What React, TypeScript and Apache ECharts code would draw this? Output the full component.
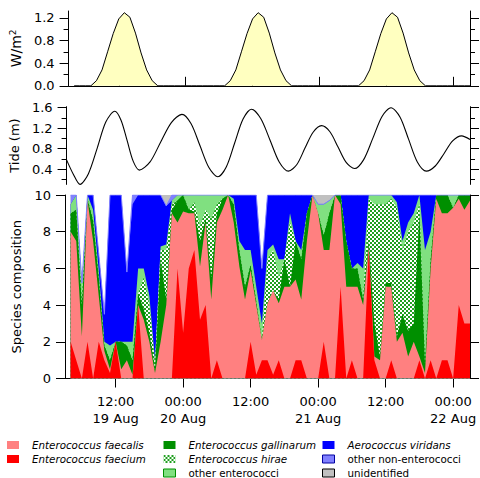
import React, { useEffect, useRef } from 'react';
import * as echarts from 'echarts';

// ---------- data ----------
// time in hours since 19 Aug 00:00
const tickHours = [12, 24, 36, 48, 60, 72];
const tickLabels = ['12:00\n19 Aug', '00:00\n20 Aug', '12:00', '00:00\n21 Aug', '12:00', '00:00\n22 Aug'];

// hourly samples 04:00 19 Aug .. 03:00 22 Aug
const sampleHours = Array.from({ length: 72 }, (_, i) => i + 4);

const solar = [
  0, 0, 0,
  0, 0.09, 0.28, 0.6, 0.92, 1.18, 1.29, 1.21, 0.93, 0.58, 0.28, 0.09, 0,
  0, 0, 0, 0, 0, 0, 0, 0, 0, 0, 0,
  0, 0.09, 0.28, 0.6, 0.92, 1.18, 1.29, 1.21, 0.93, 0.58, 0.28, 0.09, 0,
  0, 0, 0, 0, 0, 0, 0, 0, 0, 0, 0,
  0, 0.09, 0.28, 0.6, 0.92, 1.18, 1.29, 1.21, 0.93, 0.58, 0.28, 0.09, 0,
  0, 0, 0, 0, 0, 0, 0, 0,
];

const tideHours = [
  3, 4.2, 5.4, 6.9, 8.5, 10.0, 11.6, 12.7, 13.8, 14.9, 16.0, 17.9, 19.8, 21.7, 23.6,
  25.2, 26.8, 28.4, 30.0, 31.5, 33.0, 34.5, 36.0, 37.65, 39.3, 40.95, 42.6,
  44.1, 45.55, 47.0, 48.5, 50.0, 51.45, 52.9, 54.4, 56.0, 57.65, 59.3, 60.9,
  62.5, 64.05, 65.6, 67.2, 68.8, 70.35, 71.9, 73.5, 75,
];
const tideLevel = [
  0.58, 0.3, 0.1, 0.31, 0.82, 1.32, 1.53, 1.36, 0.96, 0.55, 0.38, 0.54, 0.93, 1.31, 1.47,
  1.29, 0.86, 0.43, 0.25, 0.44, 0.91, 1.38, 1.57, 1.39, 0.97, 0.54, 0.36,
  0.49, 0.81, 1.12, 1.25, 1.13, 0.83, 0.53, 0.41, 0.58, 1.0, 1.43, 1.6,
  1.42, 0.98, 0.54, 0.36, 0.46, 0.7, 0.95, 1.05, 0.98,
];

const faecium = [
  2, 1, 0, 2, 0, 2, 1, 0.3, 2, 0,
  0, 0, 4, 0, 0, 0, 0, 0, 0, 6,
  2.5, 6, 7, 3.2, 4, 0, 1, 0, 0, 0,
  0, 0, 2, 0.2, 1, 1, 0.2, 1, 0, 0,
  1, 1, 0, 0, 0, 2, 0, 0, 5, 0,
  1, 0, 0, 7, 1, 0, 0, 1, 0, 0,
  0, 0, 1, 0, 1, 0, 1, 1, 0, 4,
  3, 3,
];
const faecalis = [
  6, 6.5, 2.3, 7.7, 7.5, 2.5, 0.5, 0.2, 0, 0.5,
  1, 0.2, 0, 3.2, 2, 0.3, 2, 4, 9, 2.5,
  6.6, 3, 2, 2.9, 4.5, 4.3, 7.5, 9.2, 10, 8.5,
  6.1, 4.3, 3.9, 3.8, 1.1, 3.1, 4.6, 3.1, 5, 5,
  4.4, 3.3, 7.5, 10, 9, 5, 7, 10, 4.5, 5,
  4, 5, 4, 0.2, 0.2, 1, 5, 4, 2, 2.5,
  1.2, 2, 0.2, 0.3, 5, 9.8, 8, 8, 9.3, 5.8,
  6.2, 6.7,
];
const gallinarum = [
  1, 1.7, 1.7, 0.1, 1.1, 1, 0.3, 0.5, 0, 1.5,
  0.8, 0.8, 0.6, 0.6, 0.5, 0.2, 4.5, 0.3, 0.2, 1.2,
  0.9, 0.2, 0.1, 1.4, 0.2, 1.2, 0.5, 0.6, 0, 1,
  0.9, 0.7, 0.3, 0.2, 0, 0, 0, 0.2, 1.5, 0,
  2.1, 2.2, 1.5, 0, 0, 0.8, 2, 0, 0.5, 2.5,
  1, 1, 0.3, 0.3, 1.8, 0.2, 0.2, 0.2, 0.3, 1,
  1.4, 1, 7.8, 0.5, 0.5, 0.2, 1, 1, 0, 0.2,
  0.8, 0.3,
];
const hirae = [
  0, 0, 0.2, 0, 0, 0, 0, 0, 0, 0,
  0, 0, 0, 1.7, 1.5, 0.3, 0.5, 2.7, 0.3, 0,
  0, 0, 0.5, 0.8, 0.5, 3.2, 0.5, 0, 0, 0,
  0, 0, 0, 0, 0, 2.4, 2.2, 1.2, 0, 3.5,
  0, 0, 0, 0, 0, 0, 0, 0, 0, 0,
  0, 0, 0, 2.3, 6.5, 8.3, 4.3, 4.6, 7, 3.5,
  5.4, 5.5, 0.5, 0, 0, 0, 0, 0, 0, 0,
  0, 0,
];
const otherEntero = [
  0.5, 0.8, 1, 0.2, 0.6, 0.4, 0.2, 0.8, 0, 0,
  0.2, 1, 1.4, 0.5, 0.5, 0.2, 0.2, 0.3, 0.2, 0.3,
  0, 0.8, 0.4, 1.7, 0.8, 1.3, 0.5, 0.2, 0, 0.3,
  0.5, 2, 0.8, 0.8, 0.9, 0.5, 0.3, 1, 0, 0.5,
  0, 0.5, 0, 0, 0.5, 1.7, 0.7, 0, 0, 0,
  0, 0.3, 1.7, 0.2, 0.5, 0.5, 0.5, 0.2, 0.3, 0.5,
  0.5, 0.5, 0.5, 6.2, 1.5, 0, 0, 0, 0.7, 0,
  0, 0,
];
const viridans = [
  0, 0, 0, 0, 0.8, 0.9, 1.5, 8.2, 8, 8,
  3.8, 7.5, 4, 4, 5.5, 9, 2.8, 2.1, 0, 0,
  0, 0, 0, 0, 0, 0, 0, 0, 0, 0.2,
  2.5, 3, 3, 5, 3, 3, 2.7, 3.5, 3.5, 1,
  2.5, 3, 1, 0, 0, 0, 0, 0, 0, 2.5,
  4, 3.7, 4, 0, 0, 0, 0, 0, 0.4, 2.5,
  1.5, 1, 0, 3, 2, 0, 0, 0, 0, 0,
  0, 0,
];
const otherNonEntero = [
  0.5, 0, 0, 0, 0, 0, 0, 0, 0, 0,
  0, 0.5, 0, 0, 0, 0, 0, 0, 0.3, 0,
  0, 0, 0, 0, 0, 0, 0, 0, 0, 0,
  0, 0, 0, 0, 0, 0, 0, 0, 0, 0,
  0, 0, 0, 0, 0, 0, 0, 0, 0, 0,
  0, 0, 0, 0, 0, 0, 0, 0, 0, 0,
  0, 0, 0, 0, 0, 0, 0, 0, 0, 0,
  0, 0,
];
const unidentified = [
  0, 0, 0, 0, 0, 0, 0, 0, 0, 0,
  0, 0, 0, 0, 0, 0, 0, 0.6, 0, 0,
  0, 0, 0, 0, 0, 0, 0, 0, 0, 0,
  0, 0, 0, 0, 0, 0, 0, 0, 0, 0,
  0, 0, 0, 0, 0.5, 0.5, 0.3, 0, 0, 0,
  0, 0, 0, 0, 0, 0, 0, 0, 0, 0,
  0, 0, 0, 0, 0, 0, 0, 0, 0, 0,
  0, 0,
];

const solarTicks = [0, 0.4, 0.8, 1.2];
const solarMinor = [0.2, 0.6, 1.0];
const tideTicks = [0.4, 0.8, 1.2, 1.6];
const tideMinor = [0.2, 0.6, 1.0, 1.4];

const FONT = 'DejaVu Sans';

function makeHiraePattern() {
  const c = document.createElement('canvas');
  c.width = 4;
  c.height = 4;
  const ctx = c.getContext('2d');
  if (ctx) {
    ctx.fillStyle = '#ffffff';
    ctx.fillRect(0, 0, 4, 4);
    ctx.fillStyle = '#1f9f1f';
    ctx.fillRect(0, 0, 2, 2);
    ctx.fillRect(2, 2, 2, 2);
  }
  return { image: c.toDataURL(), repeat: 'repeat', imageWidth: 4, imageHeight: 4 };
}

const black = { color: '#000', width: 1 };

function yMajor(grid: number, min: number, max: number, ticks: number[], fmt: (v: number) => string, name: any, nameGap: number, rich?: any) {
  return {
    type: 'value', gridIndex: grid, position: 'left', min, max,
    axisLine: { show: true, lineStyle: black },
    axisTick: { show: true, customValues: ticks, length: 9, lineStyle: black },
    axisLabel: { show: true, customValues: ticks, formatter: fmt, fontSize: 13, fontFamily: FONT, color: '#000', margin: 14 },
    splitLine: { show: false },
    name, nameLocation: 'middle', nameGap, nameRotate: 90,
    nameTextStyle: { fontSize: 13, fontFamily: FONT, color: '#000', rich },
  };
}
function yTicksOnly(grid: number, min: number, max: number, ticks: number[], pos: string, len: number, line: boolean) {
  return {
    type: 'value', gridIndex: grid, position: pos, min, max,
    axisLine: { show: line, lineStyle: black },
    axisTick: { show: true, customValues: ticks, length: len, lineStyle: black },
    axisLabel: { show: false },
    splitLine: { show: false },
  };
}

export default function App() {
  const ref = useRef<HTMLDivElement>(null);
  useEffect(() => {
    if (!ref.current) return;
    const chart = echarts.init(ref.current, null, { renderer: 'svg' });
    const hiraeFill = makeHiraePattern();

    // bottom-to-top stacking order
    const speciesDefs: any[] = [
      { name: 'Enterococcus faecium', data: faecium, color: '#ff0000' },
      { name: 'Enterococcus faecalis', data: faecalis, color: '#ff8080' },
      { name: 'Enterococcus gallinarum', data: gallinarum, color: '#008f00' },
      { name: 'Enterococcus hirae', data: hirae, color: hiraeFill },
      { name: 'other enterococci', data: otherEntero, color: '#80e080' },
      { name: 'Aerococcus viridans', data: viridans, color: '#0000ff' },
      { name: 'other non-enterococci', data: otherNonEntero, color: '#8080ff', lw: 1 },
      { name: 'unidentified', data: unidentified, color: '#c0c0c0' },
    ];

    // cumulative tops of each layer; each drawn filled to zero, upper layers first
    const running = sampleHours.map(() => 0);
    const cumulative = speciesDefs.map((d) => d.data.map((v: number, i: number) => (running[i] += v)));

    const speciesSeries = speciesDefs
      .map((d, k) => ({
        type: 'line',
        name: d.name,
        xAxisIndex: 2,
        yAxisIndex: 8,
        symbol: 'none',
        data: sampleHours.map((h, i) => [h, +cumulative[k][i].toFixed(3)]),
        itemStyle: { color: d.color },
        lineStyle: { width: d.lw || 0, color: d.lw ? d.color : 'transparent' },
        areaStyle: { color: d.color, opacity: 1, origin: 'start' },
        emphasis: { disabled: true },
      }))
      .reverse();

    const legendText = { fontSize: 10.3, fontFamily: FONT, color: '#000', lineHeight: 14, padding: [0, 0, 0, 8] };
    const it = { fontStyle: 'italic' };
    const legendBase = {
      type: 'plain', orient: 'vertical', top: 438, height: 60, itemWidth: 12, itemHeight: 8, itemGap: 0, icon: 'rect',
      selectedMode: false, textStyle: legendText, itemStyle: { borderWidth: 0 }, padding: 0,
    };

    const option: any = {
      animation: false,
      backgroundColor: '#ffffff',
      textStyle: { fontFamily: FONT },
      grid: [
        { left: 65, top: 11, width: 405, height: 74.8 },
        { left: 65, top: 106.7, width: 405, height: 77.7 },
        { left: 65, top: 195, width: 405, height: 183.5 },
      ],
      xAxis: [
        {
          type: 'value', gridIndex: 0, min: 3, max: 75, position: 'top',
          axisLine: { show: true, lineStyle: black },
          axisTick: { show: true, customValues: tickHours, length: 9, lineStyle: black },
          axisLabel: { show: false }, splitLine: { show: false },
        },
        { type: 'value', gridIndex: 1, min: 3, max: 75, show: false, splitLine: { show: false } },
        {
          type: 'value', gridIndex: 2, min: 3, max: 75, position: 'bottom',
          axisLine: { show: true, lineStyle: black },
          axisTick: { show: true, customValues: tickHours, length: 9, lineStyle: black },
          axisLabel: {
            show: true, customValues: tickHours, fontSize: 13, fontFamily: FONT, color: '#000',
            lineHeight: 17, margin: 14,
            formatter: (v: number) => {
              const i = tickHours.indexOf(Math.round(v));
              return i >= 0 ? tickLabels[i] : '';
            },
          },
          splitLine: { show: false },
        },
      ],
      yAxis: [
        yMajor(0, 0, 1.32, solarTicks, (v: number) => v.toFixed(1), '{a|W/m}{b|2}', 41,
          { a: { fontSize: 14, fontFamily: FONT, color: '#000', lineHeight: 16 }, b: { fontSize: 9, fontFamily: FONT, color: '#000', verticalAlign: 'top' } }),
        yTicksOnly(0, 0, 1.32, solarMinor, 'left', 5, false),
        yTicksOnly(0, 0, 1.32, solarTicks, 'right', 9, true),
        yTicksOnly(0, 0, 1.32, solarMinor, 'right', 5, false),
        yMajor(1, 0.1, 1.62, tideTicks, (v: number) => v.toFixed(1), 'Tide (m)', 42),
        yTicksOnly(1, 0.1, 1.62, tideMinor, 'left', 5, false),
        yTicksOnly(1, 0.1, 1.62, tideTicks, 'right', 9, true),
        yTicksOnly(1, 0.1, 1.62, tideMinor, 'right', 5, false),
        {
          type: 'value', gridIndex: 2, position: 'left', min: 0, max: 10, interval: 2,
          axisLine: { show: true, lineStyle: black },
          axisTick: { show: true, length: 9, lineStyle: black },
          axisLabel: { show: true, fontSize: 13, fontFamily: FONT, color: '#000', margin: 14 },
          splitLine: { show: false },
          name: 'Species composition', nameLocation: 'middle', nameGap: 42, nameRotate: 90,
          nameTextStyle: { fontSize: 13, fontFamily: FONT, color: '#000' },
        },
        {
          type: 'value', gridIndex: 2, position: 'right', min: 0, max: 10, interval: 2,
          axisLine: { show: true, lineStyle: black },
          axisTick: { show: true, length: 9, lineStyle: black },
          axisLabel: { show: false }, splitLine: { show: false },
        },
      ],
      legend: [
        {
          ...legendBase, left: 7,
          data: [
            { name: 'Enterococcus faecalis', textStyle: it },
            { name: 'Enterococcus faecium', textStyle: it },
          ],
        },
        {
          ...legendBase, left: 163,
          data: [
            { name: 'Enterococcus gallinarum', textStyle: it },
            { name: 'Enterococcus hirae', textStyle: it },
            { name: 'other enterococci', itemStyle: { borderColor: '#009000', borderWidth: 1 } },
          ],
        },
        {
          ...legendBase, left: 322,
          data: [
            { name: 'Aerococcus viridans', textStyle: it },
            { name: 'other non-enterococci', itemStyle: { borderColor: '#0000a0', borderWidth: 1 } },
            { name: 'unidentified', itemStyle: { borderColor: '#000000', borderWidth: 1 } },
          ],
        },
      ],
      series: [
        {
          type: 'line', name: 'solar', xAxisIndex: 0, yAxisIndex: 0, symbol: 'none',
          data: sampleHours.map((h, i) => [h, solar[i]]),
          lineStyle: { color: '#000', width: 1 },
          areaStyle: { color: '#ffffc0', opacity: 1 },
          itemStyle: { color: '#000' },
          emphasis: { disabled: true },
        },
        {
          type: 'line', name: 'tide', xAxisIndex: 1, yAxisIndex: 4, symbol: 'none', smooth: 0.3,
          data: tideHours.map((h, i) => [h, tideLevel[i]]),
          lineStyle: { color: '#000', width: 1.1 },
          itemStyle: { color: '#000' },
          emphasis: { disabled: true },
        },
        ...speciesSeries,
      ],
    };
    chart.setOption(option);
    return () => chart.dispose();
  }, []);
  return <div ref={ref} style={{ position: 'fixed', left: 0, top: 0, width: 480, height: 478 }} />;
}
